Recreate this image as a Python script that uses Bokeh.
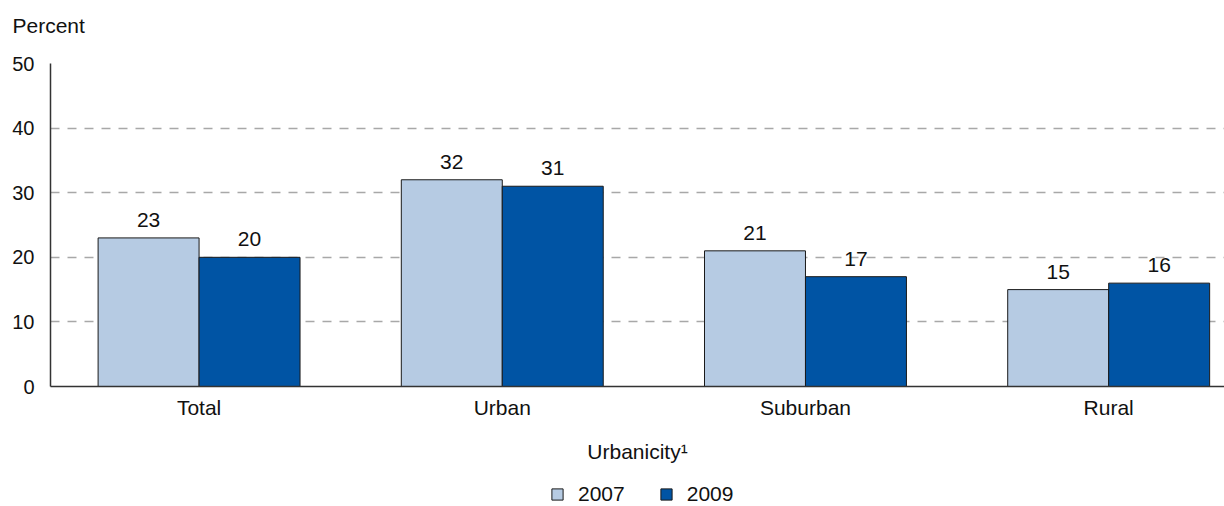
from bokeh.plotting import figure
from bokeh.layouts import column
from bokeh.models import ColumnDataSource, FixedTicker, Legend, LegendItem, Range1d
from bokeh.core.properties import value
from bokeh.embed import file_html
from bokeh.resources import INLINE

categories = ["Total", "Urban", "Suburban", "Rural"]
years = ["2007", "2009"]
values_2007 = [23, 32, 21, 15]
values_2009 = [20, 31, 17, 16]
y_ticks = [0, 10, 20, 30, 40, 50]

FONT = "Liberation Sans"
LIGHT = "#b6cbe3"
DARK = "#0054a4"
TXT = "#111111"

idx = list(range(len(categories)))
bw = 0.333
src07 = ColumnDataSource(dict(x=[i - bw / 2 for i in idx], top=values_2007,
                              lab=[str(v) for v in values_2007]))
src09 = ColumnDataSource(dict(x=[i + bw / 2 for i in idx], top=values_2009,
                              lab=[str(v) for v in values_2009]))

W = 1224
p = figure(width=W, height=476, output_backend="svg", toolbar_location=None,
           x_range=Range1d(-0.49, 3.382), y_range=Range1d(0, 50),
           min_border_left=50, min_border_right=0, min_border_top=63,
           min_border_bottom=90)
p.outline_line_color = None
p.background_fill_color = "white"

p.vbar(x="x", top="top", width=bw, source=src07, fill_color=LIGHT,
       line_color="#1a1a1a", line_width=1)
p.vbar(x="x", top="top", width=bw, source=src09, fill_color=DARK,
       line_color="#1a1a1a", line_width=1)

for s in (src07, src09):
    p.text(x="x", y="top", text="lab", source=s, text_align="center",
           text_baseline="alphabetic", y_offset=-18,
           text_font=value(FONT), text_font_size="21px", text_color=TXT)

# axes
for ax in (p.xaxis, p.yaxis):
    ax.major_tick_line_color = None
    ax.minor_tick_line_color = None
    ax.major_tick_out = 0
    ax.major_tick_in = 0
    ax.minor_tick_out = 0
    ax.minor_tick_in = 0
    ax.axis_line_color = "#333333"
    ax.axis_line_width = 1.5
    ax.major_label_text_font = FONT
    ax.major_label_text_color = TXT

p.xaxis.ticker = FixedTicker(ticks=idx)
p.xaxis.major_label_overrides = {i: c for i, c in zip(idx, categories)}
p.xaxis.major_label_text_font_size = "21px"
p.xaxis.major_label_standoff = 9
p.xaxis.axis_label = "Urbanicity\u00b9"
p.xaxis.axis_label_text_font = FONT
p.xaxis.axis_label_text_font_size = "21px"
p.xaxis.axis_label_text_font_style = "normal"
p.xaxis.axis_label_text_color = TXT
p.xaxis.axis_label_standoff = 18

p.yaxis.ticker = FixedTicker(ticks=y_ticks)
p.yaxis.major_label_text_font_size = "20px"
p.yaxis.major_label_standoff = 16

p.xgrid.grid_line_color = None
p.ygrid.grid_line_color = "#a8a8a8"
p.ygrid.grid_line_dash = "9 8"
p.ygrid.grid_line_width = 1.4

p.title.text = "Percent\n"
p.title.text_font = FONT
p.title.text_font_size = "21px"
p.title.text_font_style = "normal"
p.title.text_color = TXT
p.title.align = "left"
p.title.offset = -38
p.title.vertical_align = "top"
p.title.standoff = 0
p.title.text_line_height = 1.08

# legend strip underneath
q = figure(width=W, height=30, output_backend="svg", toolbar_location=None,
           x_range=Range1d(0, 1), y_range=Range1d(0, 1),
           x_axis_type=None, y_axis_type=None,
           min_border_left=0, min_border_right=0, min_border_top=0,
           min_border_bottom=0)
q.outline_line_color = None
q.xgrid.grid_line_color = None
q.ygrid.grid_line_color = None
l07 = q.vbar(x=[5], top=[1], width=0.1, fill_color=LIGHT, line_color="#1a1a1a")
l09 = q.vbar(x=[5], top=[1], width=0.1, fill_color=DARK, line_color="#1a1a1a")
legend = Legend(items=[LegendItem(label=years[0], renderers=[l07]),
                       LegendItem(label=years[1], renderers=[l09])],
                orientation="horizontal", location=(500, 0),
                label_text_font=FONT, label_text_font_size="21px",
                label_text_color=TXT, label_height=16,
                glyph_width=14, glyph_height=14, spacing=34, label_standoff=14,
                padding=0, margin=0, border_line_alpha=0,
                background_fill_alpha=0)
q.add_layout(legend, "center")

layout = column(p, q, spacing=0)
open("out.html", "w").write(file_html(layout, INLINE))
